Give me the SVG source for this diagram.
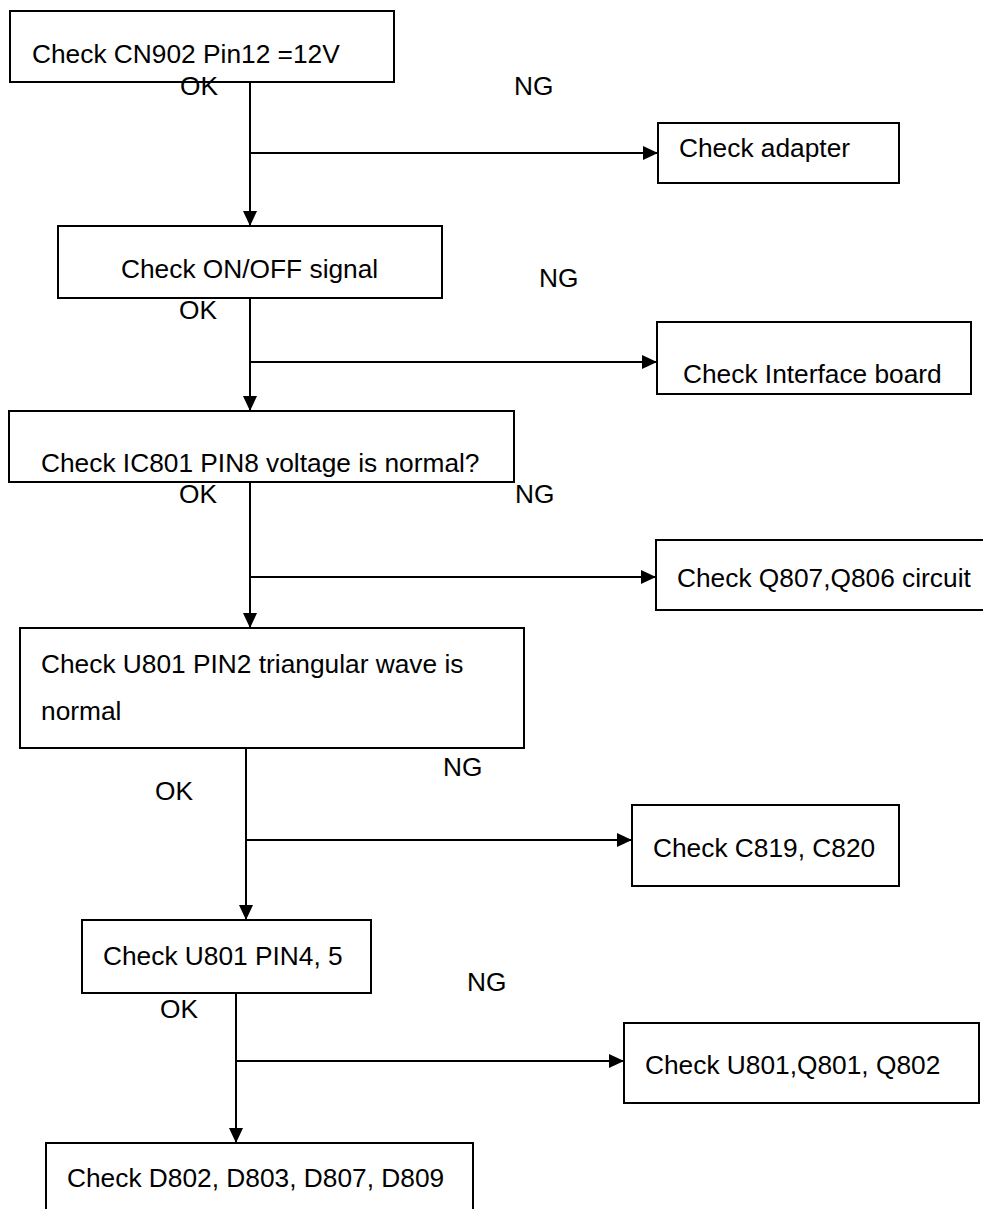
<svg xmlns="http://www.w3.org/2000/svg" width="983" height="1209" viewBox="0 0 983 1209">
<style>
.box{fill:#fff;stroke:#000;stroke-width:2}
.t{font-family:"Liberation Sans",Arial,sans-serif;font-size:26.3px;fill:#000}
.c{fill:none;stroke:#000;stroke-width:2}
</style>
<defs>
<marker id="ah" markerUnits="userSpaceOnUse" markerWidth="15" markerHeight="14" refX="15" refY="7" orient="auto">
<path d="M0,0 L15,7 L0,14 z" fill="#000"/>
</marker>
</defs>
<rect width="983" height="1209" fill="#fff"/>
<g id="connectors">
<line class="c" x1="250" y1="82" x2="250" y2="226" marker-end="url(#ah)"/>
<line class="c" x1="250" y1="153" x2="658" y2="153" marker-end="url(#ah)"/>
<line class="c" x1="250" y1="298" x2="250" y2="411" marker-end="url(#ah)"/>
<line class="c" x1="250" y1="362" x2="657" y2="362" marker-end="url(#ah)"/>
<line class="c" x1="250" y1="482" x2="250" y2="628" marker-end="url(#ah)"/>
<line class="c" x1="250" y1="577" x2="656" y2="577" marker-end="url(#ah)"/>
<line class="c" x1="246" y1="748" x2="246" y2="920" marker-end="url(#ah)"/>
<line class="c" x1="246" y1="840" x2="632" y2="840" marker-end="url(#ah)"/>
<line class="c" x1="236" y1="993" x2="236" y2="1143" marker-end="url(#ah)"/>
<line class="c" x1="236" y1="1061" x2="624" y2="1061" marker-end="url(#ah)"/>
</g>
<g id="n1"><rect class="box" x="10" y="11" width="384" height="71"/><text class="t" x="32" y="63">Check CN902 Pin12 =12V</text></g>
<g id="n2"><rect class="box" x="658" y="123" width="241" height="60"/><text class="t" x="679" y="157">Check adapter</text></g>
<g id="n3"><rect class="box" x="58" y="226" width="384" height="72"/><text class="t" x="121" y="278">Check ON/OFF signal</text></g>
<g id="n4"><rect class="box" x="657" y="322" width="314" height="72"/><text class="t" x="683" y="383">Check Interface board</text></g>
<g id="n5"><rect class="box" x="9" y="411" width="505" height="71"/><text class="t" x="41" y="472">Check IC801 PIN8 voltage is normal?</text></g>
<g id="n6"><rect class="box" x="656" y="540" width="340" height="70"/><text class="t" x="677" y="587">Check Q807,Q806 circuit</text></g>
<g id="n7"><rect class="box" x="20" y="628" width="504" height="120"/><text class="t" x="41" y="673">Check U801 PIN2 triangular wave is</text><text class="t" x="41" y="720">normal</text></g>
<g id="n8"><rect class="box" x="632" y="805" width="267" height="81"/><text class="t" x="653" y="857">Check C819, C820</text></g>
<g id="n9"><rect class="box" x="82" y="920" width="289" height="73"/><text class="t" x="103" y="965">Check U801 PIN4, 5</text></g>
<g id="n10"><rect class="box" x="624" y="1023" width="355" height="80"/><text class="t" x="645" y="1074">Check U801,Q801, Q802</text></g>
<g id="n11"><rect class="box" x="46" y="1143" width="427" height="80"/><text class="t" x="67" y="1187">Check D802, D803, D807, D809</text></g>
<g id="labels">
<text class="t" x="180" y="95">OK</text>
<text class="t" x="514" y="95">NG</text>
<text class="t" x="539" y="287">NG</text>
<text class="t" x="179" y="319">OK</text>
<text class="t" x="179" y="503">OK</text>
<text class="t" x="515" y="503">NG</text>
<text class="t" x="443" y="776">NG</text>
<text class="t" x="155" y="800">OK</text>
<text class="t" x="467" y="991">NG</text>
<text class="t" x="160" y="1018">OK</text>
</g>
</svg>
